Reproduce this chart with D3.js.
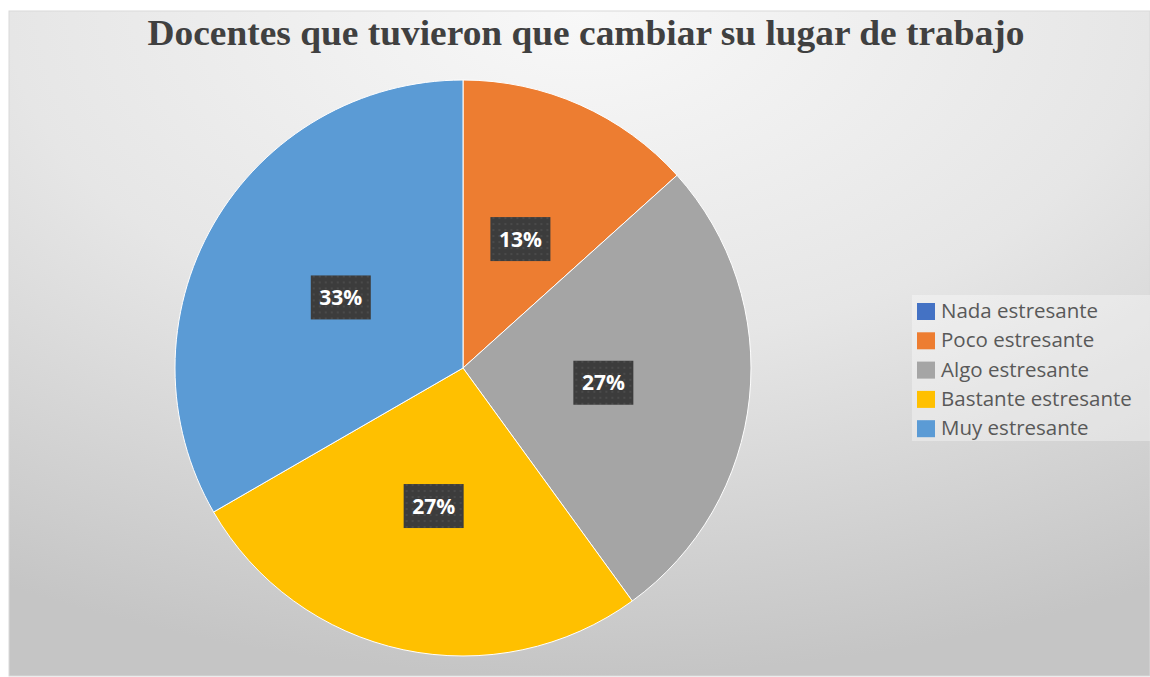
<!DOCTYPE html>
<html>
<head>
<meta charset="utf-8">
<script src="https://cdn.jsdelivr.net/npm/d3@7"></script>
<style>
  body { margin: 0; background: #fff; }
  svg { display: block; }
</style>
</head>
<body>
<svg id="chart" width="1150" height="677"></svg>
<script>
/*****************************************
*   Data
*****************************************/
const categories = ['Nada estresante', 'Poco estresante', 'Algo estresante', 'Bastante estresante', 'Muy estresante'];
const values = [0, 2, 4, 4, 5];
const colors = ['#4472c4', '#ed7d31', '#a5a5a5', '#ffc000', '#5b9bd5'];
const title = 'Docentes que tuvieron que cambiar su lugar de trabajo';

/*****************************************
*   Layout
*****************************************/
const SVG_WIDTH = 1150;
const SVG_HEIGHT = 677;
const AREA_LEFT = 9;
const AREA_TOP = 11;
const CX = 463;
const CY = 368;
const RADIUS = 288;

var svg = d3.select('#chart');
var defs = svg.append('defs');

var bg = defs.append('radialGradient')
    .attr('id', 'bg')
    .attr('cx', 0.5).attr('cy', 0)
    .attr('r', 1);
bg.append('stop').attr('offset', 0).attr('stop-color', '#f8f8f8');
bg.append('stop').attr('offset', 0.5).attr('stop-color', '#e6e6e6');
bg.append('stop').attr('offset', 1).attr('stop-color', '#c5c5c5');

// dotted dark fill of the data labels
var pat = defs.append('pattern')
    .attr('id', 'dots')
    .attr('width', 6).attr('height', 6)
    .attr('patternUnits', 'userSpaceOnUse');
pat.append('rect').attr('width', 6).attr('height', 6).attr('fill', '#3c3c3c');
pat.append('circle').attr('cx', 3).attr('cy', 3).attr('r', 1).attr('fill', '#4e4e4e');

svg.append('rect')
    .attr('x', AREA_LEFT)
    .attr('y', AREA_TOP)
    .attr('width', SVG_WIDTH - AREA_LEFT)
    .attr('height', SVG_HEIGHT - AREA_TOP - 1)
    .attr('fill', 'url(#bg)')
    .attr('stroke', '#d9d9d9');

svg.append('text')
    .attr('x', 586)
    .attr('y', 45)
    .attr('text-anchor', 'middle')
    .attr('font-family', 'Liberation Serif, serif')
    .attr('font-weight', 'bold')
    .attr('font-size', 35)
    .attr('fill', '#404040')
    .attr('textLength', 877)
    .attr('lengthAdjust', 'spacingAndGlyphs')
    .text(title);

/*****************************************
*   Pie
*****************************************/
var total = d3.sum(values);
var pct = d3.format('.0%');
var data = categories.map((c, i) => ({name: c, value: values[i], color: colors[i]}));

var pie = d3.pie().sort(null).value(d => d.value);
var arc = d3.arc().innerRadius(0).outerRadius(RADIUS);
var labelArc = d3.arc().innerRadius(RADIUS * 0.49).outerRadius(RADIUS * 0.49);

var g = svg.append('g').attr('transform', 'translate(' + CX + ',' + CY + ')');

g.selectAll('path')
    .data(pie(data))
    .enter()
      .append('path')
      .attr('d', arc)
      .attr('fill', d => d.data.color)
      .attr('stroke', '#ffffff')
      .attr('stroke-width', 1);

var lab = g.selectAll('g.lab')
    .data(pie(data).filter(d => d.data.value > 0))
    .enter()
      .append('g')
      .attr('class', 'lab')
      .attr('transform', d => 'translate(' + labelArc.centroid(d) + ')');

lab.append('rect')
    .attr('x', -30).attr('y', -22)
    .attr('width', 60).attr('height', 44)
    .attr('fill', 'url(#dots)');

lab.append('text')
    .attr('text-anchor', 'middle')
    .attr('dy', '0.36em')
    .attr('font-family', 'Open Sans, sans-serif')
    .attr('font-weight', 'bold')
    .attr('font-size', 21)
    .attr('fill', '#ffffff')
    .text(d => pct(d.data.value / total));

/*****************************************
*   Legend
*****************************************/
svg.append('rect')
    .attr('x', 912).attr('y', 295)
    .attr('width', 238).attr('height', 146)
    .attr('fill', '#ffffff')
    .attr('fill-opacity', 0.35);

var leg = svg.selectAll('g.leg')
    .data(data)
    .enter()
      .append('g')
      .attr('class', 'leg')
      .attr('transform', (d, i) => 'translate(917,' + (311 + i * 29.3) + ')');

leg.append('rect')
    .attr('x', 0).attr('y', -8)
    .attr('width', 18).attr('height', 17)
    .attr('fill', d => d.color);

leg.append('text')
    .attr('x', 24)
    .attr('dy', '0.35em')
    .attr('font-family', 'Open Sans, sans-serif')
    .attr('font-size', 20.5)
    .attr('fill', '#595959')
    .text(d => d.name);
</script>
</body>
</html>
